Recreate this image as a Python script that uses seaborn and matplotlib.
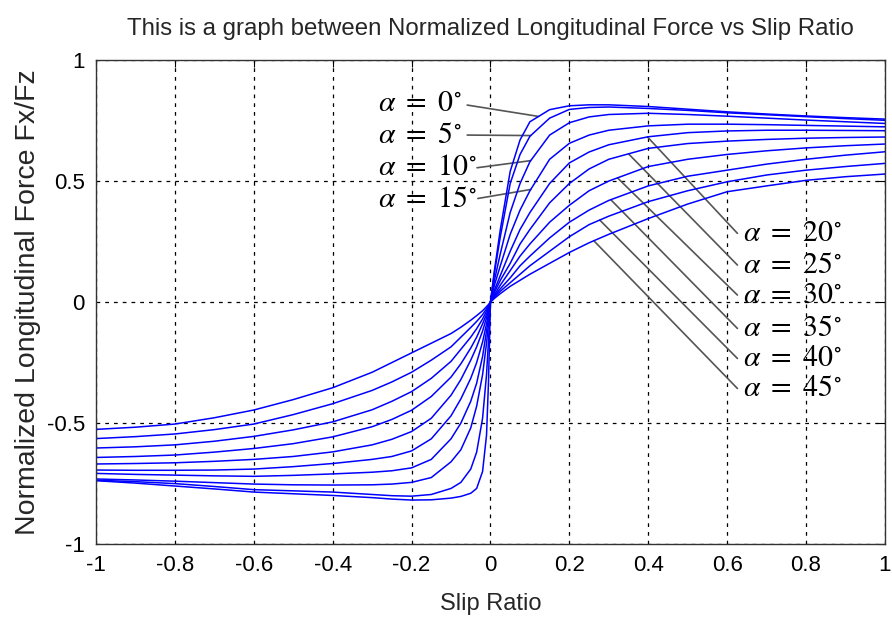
import numpy as np
import pandas as pd
import matplotlib
matplotlib.use("Agg")
import matplotlib.pyplot as plt
import seaborn as sns

# ---------------- data ----------------
alphas = [0, 5, 10, 15, 20, 25, 30, 35, 40, 45]
slip = [-1.0, -0.9, -0.8, -0.7, -0.6, -0.5, -0.4, -0.3, -0.25, -0.2, -0.15, -0.1,
        -0.075, -0.05, -0.035, -0.02, -0.01, -0.005, 0.0,
        0.01, 0.025, 0.05, 0.075, 0.1, 0.15, 0.2, 0.25, 0.3, 0.4, 0.5, 0.6, 0.7, 0.8, 0.9, 1.0]

fx_a00 = [-0.738, -0.748, -0.760, -0.772, -0.785, -0.792, -0.799, -0.808, -0.814, -0.818, -0.817, -0.810,
          -0.803, -0.790, -0.770, -0.700, -0.550, -0.330, 0,
          0.13, 0.30, 0.54, 0.67, 0.745, 0.795, 0.811, 0.815, 0.815, 0.808, 0.797, 0.786, 0.777, 0.769, 0.762, 0.756]
fx_a05 = [-0.736, -0.742, -0.750, -0.762, -0.775, -0.780, -0.785, -0.795, -0.800, -0.802, -0.795, -0.770,
          -0.745, -0.690, -0.620, -0.480, -0.300, -0.160, 0,
          0.12, 0.27, 0.49, 0.61, 0.685, 0.76, 0.796, 0.804, 0.806, 0.800, 0.792, 0.782, 0.774, 0.766, 0.758, 0.751]
fx_a10 = [-0.731, -0.735, -0.740, -0.746, -0.752, -0.755, -0.756, -0.755, -0.752, -0.745, -0.725, -0.660,
          -0.610, -0.520, -0.430, -0.300, -0.170, -0.090, 0,
          0.09, 0.20, 0.37, 0.49, 0.58, 0.69, 0.741, 0.765, 0.775, 0.780, 0.775, 0.768, 0.760, 0.752, 0.745, 0.738]
fx_a15 = [-0.708, -0.712, -0.715, -0.718, -0.720, -0.716, -0.710, -0.703, -0.697, -0.685, -0.650, -0.565,
          -0.500, -0.410, -0.335, -0.225, -0.120, -0.065, 0,
          0.07, 0.15, 0.28, 0.38, 0.46, 0.59, 0.656, 0.69, 0.71, 0.728, 0.735, 0.735, 0.733, 0.730, 0.727, 0.724]
fx_a20 = [-0.694, -0.695, -0.695, -0.694, -0.690, -0.680, -0.667, -0.650, -0.638, -0.615, -0.565, -0.470,
          -0.400, -0.315, -0.250, -0.165, -0.090, -0.048, 0,
          0.05, 0.11, 0.21, 0.30, 0.37, 0.49, 0.575, 0.62, 0.65, 0.683, 0.70, 0.707, 0.710, 0.710, 0.709, 0.708]
fx_a25 = [-0.669, -0.667, -0.664, -0.658, -0.650, -0.638, -0.619, -0.590, -0.567, -0.535, -0.480, -0.385,
          -0.320, -0.240, -0.185, -0.120, -0.065, -0.035, 0,
          0.04, 0.09, 0.16, 0.24, 0.30, 0.41, 0.49, 0.55, 0.59, 0.635, 0.655, 0.665, 0.672, 0.677, 0.680, 0.682]
fx_a30 = [-0.642, -0.638, -0.632, -0.620, -0.605, -0.585, -0.557, -0.515, -0.485, -0.447, -0.390, -0.310,
          -0.255, -0.190, -0.145, -0.090, -0.050, -0.026, 0,
          0.03, 0.07, 0.13, 0.19, 0.24, 0.33, 0.40, 0.46, 0.50, 0.56, 0.59, 0.61, 0.625, 0.637, 0.646, 0.653]
fx_a35 = [-0.603, -0.598, -0.590, -0.575, -0.555, -0.528, -0.495, -0.445, -0.410, -0.370, -0.315, -0.245,
          -0.195, -0.145, -0.110, -0.070, -0.038, -0.020, 0,
          0.025, 0.055, 0.10, 0.15, 0.19, 0.265, 0.33, 0.38, 0.42, 0.48, 0.52, 0.545, 0.57, 0.59, 0.607, 0.621]
fx_a40 = [-0.564, -0.556, -0.545, -0.527, -0.504, -0.465, -0.420, -0.365, -0.330, -0.290, -0.240, -0.185,
          -0.145, -0.105, -0.080, -0.052, -0.028, -0.015, 0,
          0.02, 0.045, 0.08, 0.115, 0.15, 0.21, 0.27, 0.32, 0.355, 0.415, 0.46, 0.497, 0.525, 0.545, 0.56, 0.573]
fx_a45 = [-0.526, -0.517, -0.504, -0.478, -0.446, -0.403, -0.354, -0.290, -0.250, -0.210, -0.170, -0.130,
          -0.104, -0.075, -0.056, -0.036, -0.019, -0.010, 0,
          0.015, 0.035, 0.065, 0.09, 0.115, 0.16, 0.205, 0.245, 0.28, 0.345, 0.405, 0.456, 0.48, 0.503, 0.518, 0.529]

curves = [fx_a00, fx_a05, fx_a10, fx_a15, fx_a20, fx_a25, fx_a30, fx_a35, fx_a40, fx_a45]

x_ticks = [-1, -0.8, -0.6, -0.4, -0.2, 0, 0.2, 0.4, 0.6, 0.8, 1]
x_tick_labels = ["-1", "-0.8", "-0.6", "-0.4", "-0.2", "0", "0.2", "0.4", "0.6", "0.8", "1"]
y_ticks = [-1, -0.5, 0, 0.5, 1]
y_tick_labels = ["-1", "-0.5", "0", "0.5", "1"]

# slip ratio at which each label's leader line touches its curve
pointer_slip = [0.122, 0.102, 0.102, 0.102, 0.398, 0.350, 0.322, 0.305, 0.277, 0.262]

# ---------------- build long-form table ----------------
frames = []
for a, fx in zip(alphas, curves):
    frames.append(pd.DataFrame({"slip": slip, "fx": fx, "alpha": a}))
df = pd.concat(frames, ignore_index=True)

# ---------------- style ----------------
sns.set_style("white")
plt.rcParams["font.family"] = ["Liberation Sans", "DejaVu Sans"]
plt.rcParams["mathtext.fontset"] = "stix"

fig = plt.figure(figsize=(8.92, 6.19), dpi=100)
ax = fig.add_axes([0.1076, 0.121, 0.8845, 0.782])

sns.lineplot(data=df, x="slip", y="fx", hue="alpha", estimator=None,
             palette=["#0000ff"] * len(alphas), linewidth=1.1, legend=False,
             ax=ax, sort=False)

ax.set_xlim(-1, 1)
ax.set_ylim(-1, 1)
ax.set_xticks(x_ticks)
ax.set_xticklabels(x_tick_labels)
ax.set_yticks(y_ticks)
ax.set_yticklabels(y_tick_labels)
ax.grid(True, color="black", linestyle=(0, (3, 4)), linewidth=0.9)
ax.tick_params(direction="in", length=5, width=0.8, top=True, right=True,
               labelsize=16, pad=8, colors="black")
for s in ax.spines.values():
    s.set_color("#333333")
    s.set_linewidth(1.0)

ax.set_title("This is a graph between Normalized Longitudinal Force vs Slip Ratio",
             fontsize=17.3, pad=18)
ax.set_xlabel("Slip Ratio", fontsize=17, labelpad=12)
ax.set_ylabel("Normalized Longitudinal Force Fx/Fz", fontsize=20.5, labelpad=4)

# ---------------- annotations ----------------
left_text_pos = [(-0.284, 0.822), (-0.284, 0.690), (-0.284, 0.558), (-0.284, 0.426)]
left_line_start = [(-0.059, 0.814), (-0.059, 0.690), (-0.034, 0.555), (-0.032, 0.428)]
right_text_y = [0.284, 0.153, 0.029, -0.109, -0.233, -0.357]
right_text_x = 0.639
right_line_x = 0.626

xs = np.array(slip)
for i, (a, fx) in enumerate(zip(alphas, curves)):
    px = pointer_slip[i]
    py = float(np.interp(px, xs, np.array(fx)))
    if i < 4:
        tx, ty = left_text_pos[i]
        sx, sy = left_line_start[i]
    else:
        tx, ty = right_text_x, right_text_y[i - 4]
        sx, sy = right_line_x, right_text_y[i - 4]
    ax.plot([sx, px], [sy, py], color="#555555", linewidth=1.2, zorder=1)
    ax.text(tx, ty, r"$\alpha\ =\ %d^{\circ}$" % a, fontsize=21.5, ha="left",
            va="center", color="black", zorder=5)

fig.savefig("out.png", dpi=100, facecolor="white")
